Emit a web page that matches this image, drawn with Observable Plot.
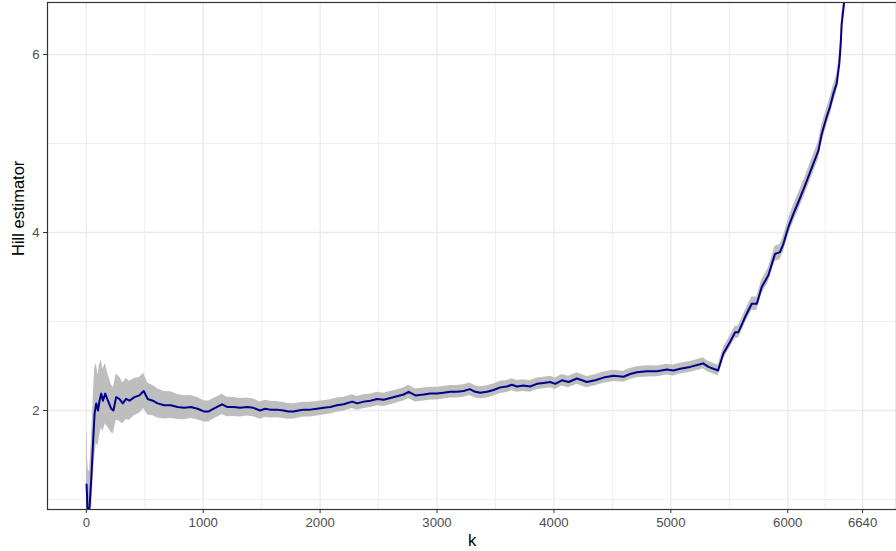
<!DOCTYPE html>
<html>
<head>
<meta charset="utf-8">
<script src="https://cdn.jsdelivr.net/npm/d3@7"></script>
<script src="https://cdn.jsdelivr.net/npm/@observablehq/plot@0.6"></script>
<style>
  html, body { margin: 0; padding: 0; background: #ffffff; }
  #chart svg { display: block; }
</style>
</head>
<body>
<div id="chart"></div>
<script>
// Number of upper order statistics k
const kValues = [
  2, 6, 10, 18, 28, 43, 58, 71, 85, 100, 113, 128, 142, 162, 185, 213, 232, 255, 283, 312,
  340, 369, 411, 454, 491, 525, 568, 610, 666, 723, 780, 837, 894, 951, 1005, 1047, 1090, 1119, 1161, 1204,
  1260, 1317, 1374, 1430, 1487, 1530, 1573, 1630, 1687, 1729, 1772, 1815, 1858, 1915, 1973, 2030, 2087, 2145, 2201, 2274,
  2316, 2373, 2430, 2488, 2544, 2601, 2658, 2715, 2757, 2815, 2885, 2942, 3000, 3056, 3113, 3170, 3228, 3279, 3327, 3370,
  3428, 3484, 3541, 3598, 3640, 3683, 3740, 3797, 3854, 3911, 3968, 4011, 4068, 4125, 4197, 4282, 4353, 4424, 4509, 4595,
  4652, 4709, 4795, 4881, 4966, 5022, 5080, 5165, 5250, 5276, 5322, 5404, 5449, 5506, 5550, 5578, 5635, 5692, 5735, 5778,
  5834, 5891, 5934, 5962, 6005, 6048, 6090, 6148, 6218, 6262, 6291, 6333, 6361, 6390, 6418, 6441, 6453, 6461, 6481, 6501
];
// Hill estimator values
const hillValues = [
  1.17, 1.05, 0.86, 0.87, 0.92, 1.25, 1.65, 1.97, 2.08, 2.00, 2.11, 2.19, 2.11, 2.19, 2.11, 2.02, 2.00, 2.15, 2.13, 2.08,
  2.13, 2.11, 2.15, 2.17, 2.22, 2.13, 2.11, 2.08, 2.06, 2.06, 2.04, 2.03, 2.04, 2.02, 1.99, 1.99, 2.02, 2.04, 2.07, 2.04,
  2.04, 2.03, 2.04, 2.03, 2.00, 2.02, 2.01, 2.01, 2.00, 1.99, 1.99, 2.00, 2.01, 2.01, 2.02, 2.03, 2.04, 2.06, 2.07, 2.10,
  2.08, 2.10, 2.11, 2.13, 2.12, 2.14, 2.16, 2.18, 2.21, 2.17, 2.18, 2.19, 2.19, 2.20, 2.21, 2.21, 2.22, 2.24, 2.21, 2.20,
  2.21, 2.23, 2.26, 2.27, 2.29, 2.27, 2.28, 2.27, 2.30, 2.31, 2.32, 2.30, 2.34, 2.32, 2.36, 2.32, 2.34, 2.37, 2.39, 2.38,
  2.41, 2.43, 2.44, 2.44, 2.46, 2.45, 2.47, 2.49, 2.52, 2.53, 2.49, 2.45, 2.64, 2.77, 2.88, 2.88, 3.05, 3.20, 3.20, 3.39,
  3.52, 3.76, 3.78, 3.87, 4.06, 4.21, 4.34, 4.53, 4.77, 4.92, 5.11, 5.30, 5.41, 5.56, 5.67, 5.90, 6.12, 6.34, 6.57, 6.90
];
// Half-width of the confidence band, read from the grey ribbon
const ciHalfWidth = [
  0.60, 0.70, 0.60, 0.45, 0.40, 0.40, 0.45, 0.50, 0.45, 0.40, 0.40, 0.38, 0.35, 0.34, 0.30, 0.27, 0.26, 0.26, 0.25, 0.23,
  0.23, 0.22, 0.21, 0.20, 0.20, 0.18, 0.17, 0.165, 0.155, 0.15, 0.14, 0.135, 0.13, 0.125, 0.12, 0.118, 0.116, 0.115, 0.114, 0.11,
  0.107, 0.104, 0.102, 0.10, 0.097, 0.095, 0.093, 0.091, 0.089, 0.087, 0.086, 0.085, 0.084, 0.083, 0.082, 0.081, 0.080, 0.080, 0.079, 0.078,
  0.077, 0.077, 0.076, 0.076, 0.075, 0.075, 0.074, 0.074, 0.075, 0.073, 0.072, 0.072, 0.071, 0.071, 0.070, 0.070, 0.070, 0.070, 0.068, 0.068,
  0.068, 0.068, 0.068, 0.067, 0.067, 0.066, 0.066, 0.065, 0.066, 0.065, 0.065, 0.064, 0.065, 0.064, 0.064, 0.063, 0.063, 0.063, 0.063, 0.062,
  0.062, 0.062, 0.062, 0.061, 0.061, 0.061, 0.061, 0.061, 0.062, 0.062, 0.061, 0.060, 0.064, 0.066, 0.068, 0.068, 0.072, 0.075, 0.075, 0.078,
  0.080, 0.085, 0.085, 0.087, 0.090, 0.092, 0.094, 0.097, 0.100, 0.100, 0.100, 0.100, 0.100, 0.100, 0.100, 0.100, 0.100, 0.100, 0.100, 0.100
];

const xMajorTicks = [0, 1000, 2000, 3000, 4000, 5000, 6000, 6640];
const xMinorTicks = [500, 1500, 2500, 3500, 4500, 5500, 6320];
const yMajorTicks = [2, 4, 6];
const yMinorTicks = [1, 3, 5];

const xTitle = "k";
const yTitle = "Hill estimator";

const data = kValues.map((k, i) => ({
  k,
  hill: hillValues[i],
  lo: hillValues[i] - ciHalfWidth[i],
  hi: hillValues[i] + ciHalfWidth[i]
}));

const FONT = "'Liberation Sans', Arial, Helvetica, sans-serif";
const GRID = "#ebebeb";

const chart = Plot.plot({
  width: 896,
  height: 551,
  marginLeft: 47,
  marginRight: 0,
  marginTop: 2,
  marginBottom: 42,
  style: { fontFamily: FONT, background: "#ffffff" },
  x: { domain: [-332, 6930] },
  y: { domain: [0.888, 6.584] },
  marks: [
    Plot.ruleX(xMinorTicks, { stroke: GRID, strokeWidth: 0.8 }),
    Plot.ruleY(yMinorTicks, { stroke: GRID, strokeWidth: 0.8 }),
    Plot.ruleX(xMajorTicks, { stroke: GRID, strokeWidth: 1.4 }),
    Plot.ruleY(yMajorTicks, { stroke: GRID, strokeWidth: 1.4 }),
    Plot.areaY(data, { x: "k", y1: "lo", y2: "hi", fill: "#bebebe", clip: true }),
    Plot.line(data, { x: "k", y: "hill", stroke: "#00008b", strokeWidth: 2, clip: true }),
    Plot.frame({ stroke: "#333333", strokeWidth: 1.2 }),
    Plot.axisX({
      ticks: xMajorTicks, tickFormat: d => String(d), tickSize: 4, tickPadding: 4,
      stroke: "#333333", fill: "#4d4d4d", fontSize: 13.2, label: null
    }),
    Plot.axisY({
      ticks: yMajorTicks, tickFormat: d => String(d), tickSize: 4, tickPadding: 4,
      stroke: "#333333", fill: "#4d4d4d", fontSize: 13.2, label: null
    }),
    Plot.text([xTitle], { frameAnchor: "bottom", dy: 36, fontSize: 16.5, fill: "#000000", text: d => d }),
    Plot.text([yTitle], { frameAnchor: "left", dx: -29, rotate: -90, fontSize: 16.5, fill: "#000000", text: d => d })
  ]
});

document.getElementById("chart").appendChild(chart);
</script>
</body>
</html>
